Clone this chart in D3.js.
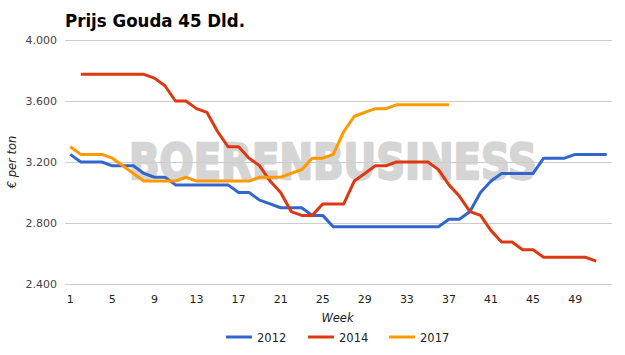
<!DOCTYPE html>
<html>
<head>
<meta charset="utf-8">
<script src="https://cdn.jsdelivr.net/npm/d3@7.9.0/dist/d3.min.js"></script>
<style>
  html, body { margin: 0; padding: 0; background: #fff; }
  svg { display: block; font-family: 'DejaVu Sans', sans-serif; }
</style>
</head>
<body>
<div id="chart"></div>
<script>
const weeks = d3.range(1, 53);
const xTickWeeks = [1, 5, 9, 13, 17, 21, 25, 29, 33, 37, 41, 45, 49];
const yTicks = [2400, 2800, 3200, 3600, 4000];

const prices2012 = [
  3250, 3200, 3200, 3200, 3175, 3175, 3175, 3125, 3100, 3100,
  3050, 3050, 3050, 3050, 3050, 3050, 3000, 3000, 2950, 2925,
  2900, 2900, 2900, 2850, 2850, 2775, 2775, 2775, 2775, 2775,
  2775, 2775, 2775, 2775, 2775, 2775, 2825, 2825, 2875, 3000,
  3075, 3125, 3125, 3125, 3125, 3225, 3225, 3225, 3250, 3250,
  3250, 3250,
];

const prices2014 = [
  null, 3775, 3775, 3775, 3775, 3775, 3775, 3775, 3750, 3700,
  3600, 3600, 3550, 3525, 3400, 3300, 3300, 3225, 3175, 3075,
  3000, 2875, 2850, 2850, 2925, 2925, 2925, 3075, 3125, 3175,
  3175, 3200, 3200, 3200, 3200, 3150, 3050, 2975, 2875, 2850,
  2750, 2675, 2675, 2625, 2625, 2575, 2575, 2575, 2575, 2575,
  2550, null,
];

const prices2017 = [
  3300, 3250, 3250, 3250, 3225, 3175, 3125, 3075, 3075, 3075,
  3075, 3100, 3075, 3075, 3075, 3075, 3075, 3075, 3100, 3100,
  3100, 3125, 3150, 3225, 3225, 3250, 3400, 3500, 3525, 3550,
  3550, 3575, 3575, 3575, 3575, 3575, 3575,
];

const seriesNames = ['2012', '2014', '2017'];
const seriesColors = ['#3366cc', '#dc3912', '#ff9900'];

const series = [prices2012, prices2014, prices2017].map((values, i) => ({
  name: seriesNames[i],
  color: seriesColors[i],
  points: weeks.map((w, j) => ({ week: w, value: values[j] ?? null })),
}));

const width = 625;
const height = 355;
const plot = { left: 65, right: 612, top: 40, bottom: 284 };

const nl = d3.formatLocale({ decimal: ',', thousands: '.', grouping: [3], currency: ['€', ''] });
const formatPrice = nl.format(',');

const svg = d3
  .select('#chart')
  .append('svg')
  .attr('width', width)
  .attr('height', height)
  .attr('viewBox', `0 0 ${width} ${height}`);

const xScale = d3.scaleBand().domain(weeks).range([plot.left, plot.right]).padding(0);
const xPos = (w) => xScale(w) + xScale.bandwidth() / 2;
const yScale = d3.scaleLinear().domain([2400, 4000]).range([plot.bottom, plot.top]);

// title
svg
  .append('text')
  .attr('x', 65)
  .attr('y', 26.5)
  .attr('font-size', 18.5)
  .attr('font-weight', 'bold')
  .attr('fill', '#000')
  .attr('textLength', 180)
  .attr('lengthAdjust', 'spacingAndGlyphs')
  .text('Prijs Gouda 45 Dld.');

// watermark behind everything, squeezed horizontally to the reference width
const mark = svg
  .append('text')
  .attr('font-size', 50)
  .attr('font-weight', 'bold')
  .attr('fill', '#d5d5d5')
  .attr('stroke', '#d5d5d5')
  .attr('stroke-width', 2.6)
  .attr('stroke-linejoin', 'round')
  .text('BOERENBUSINESS');
const markW = mark.node().getComputedTextLength() || 510;
mark.attr('transform', `translate(129,179) scale(${408 / markW},1)`);

// gridlines + y labels
const yAxis = svg
  .append('g')
  .attr('class', 'axis axis--y')
  .attr('transform', `translate(${plot.left},0)`)
  .call(
    d3.axisLeft(yScale)
      .tickValues(yTicks)
      .tickSize(-(plot.right - plot.left))
      .tickPadding(8)
      .tickFormat(formatPrice),
  );
yAxis.select('.domain').remove();
yAxis.selectAll('line').attr('stroke', '#cccccc');
yAxis.selectAll('text').attr('font-size', 11).attr('fill', '#444').attr('font-family', 'DejaVu Sans');

const xAxis = svg
  .append('g')
  .attr('class', 'axis axis--x')
  .attr('transform', `translate(0,${plot.bottom})`)
  .call(d3.axisBottom(xScale).tickValues(xTickWeeks).tickSize(0).tickPadding(11));
xAxis.select('.domain').remove();
xAxis.selectAll('text').attr('font-size', 11).attr('fill', '#222').attr('font-family', 'DejaVu Sans');

// axis titles
svg
  .append('text')
  .attr('x', 337.5)
  .attr('y', 322)
  .attr('text-anchor', 'middle')
  .attr('font-size', 11.5)
  .attr('font-style', 'italic')
  .attr('fill', '#222')
  .text('Week');

svg
  .append('text')
  .attr('transform', 'translate(16,162) rotate(-90)')
  .attr('text-anchor', 'middle')
  .attr('font-size', 11.5)
  .attr('font-style', 'italic')
  .attr('fill', '#222')
  .text('€ per ton');

// lines
const line = d3
  .line()
  .defined((d) => d.value != null)
  .x((d) => xPos(d.week))
  .y((d) => yScale(d.value));

svg
  .append('g')
  .attr('class', 'lines')
  .selectAll('path')
  .data(series)
  .join('path')
  .attr('fill', 'none')
  .attr('stroke', (d) => d.color)
  .attr('stroke-width', 3)
  .attr('stroke-linejoin', 'round')
  .attr('d', (d) => line(d.points));

// legend
const legendX = [226, 308, 389];
const legend = svg
  .append('g')
  .attr('class', 'legend')
  .selectAll('g')
  .data(series)
  .join('g')
  .attr('transform', (d, i) => `translate(${legendX[i]},337)`);

legend
  .append('line')
  .attr('x1', 0)
  .attr('x2', 26)
  .attr('stroke', (d) => d.color)
  .attr('stroke-width', 3);

legend
  .append('text')
  .attr('x', 31)
  .attr('y', 5)
  .attr('font-size', 11.5)
  .attr('fill', '#222')
  .text((d) => d.name);
</script>
</body>
</html>
